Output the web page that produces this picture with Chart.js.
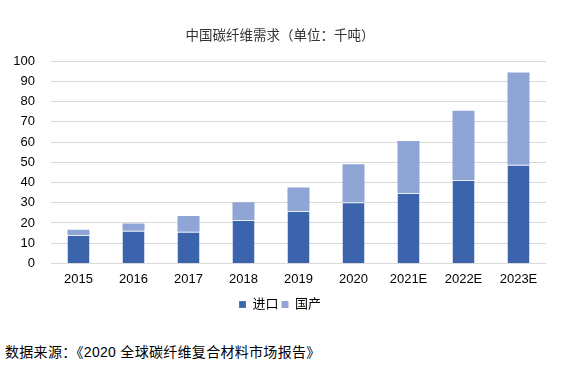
<!DOCTYPE html>
<html>
<head>
<meta charset="utf-8">
<script src="https://cdn.jsdelivr.net/npm/chart.js@4.4.0/dist/chart.umd.min.js"></script>
<style>
  html, body { margin: 0; padding: 0; background: #fff; }
  #wrap { position: relative; width: 563px; height: 368px; }
  #box { position: absolute; left: 0; top: 0; width: 563px; height: 325px; }
  #src { position: absolute; left: 5px; top: 341px; font: 14px "Liberation Sans", "Noto Sans CJK SC", sans-serif; letter-spacing: 0.3px; color: #000; white-space: nowrap; }
</style>
</head>
<body>
<div id="wrap">
  <div id="box"><canvas id="c"></canvas></div>
  <div id="src">数据来源：《2020 全球碳纤维复合材料市场报告》</div>
</div>
<script>
const categories = ['2015', '2016', '2017', '2018', '2019', '2020', '2021E', '2022E', '2023E'];
const importValues = [14, 16.1, 15.6, 21.5, 25.9, 30.3, 34.8, 41.3, 48.8];
const domesticValues = [2.6, 3.6, 7.8, 8.8, 11.6, 18.7, 25.7, 34.2, 45.6];
const seriesNames = ['进口', '国产'];
const titleText = '中国碳纤维需求（单位：千吨）';

const FONT = '"Liberation Sans", "Noto Sans CJK SC", sans-serif';

new Chart(document.getElementById('c'), {
  type: 'bar',
  data: {
    labels: categories,
    datasets: [
      { label: seriesNames[0], data: importValues, backgroundColor: '#3B64AD', borderColor: '#E8EDF7', borderWidth: {top: 1}, borderSkipped: 'bottom', barPercentage: 0.4, categoryPercentage: 1 },
      { label: seriesNames[1], data: domesticValues, backgroundColor: '#8FA5D6', borderWidth: 0, barPercentage: 0.4, categoryPercentage: 1 }
    ]
  },
  options: {
    responsive: true,
    maintainAspectRatio: false,
    animation: false,
    layout: { padding: { left: 14, right: 17, top: 28, bottom: 4 } },
    plugins: {
      title: { display: true, text: titleText, color: '#333333', font: { family: FONT, size: 13.5, weight: 'normal' }, padding: { top: 0, bottom: 17 } },
      legend: {
        position: 'bottom',
        labels: { boxWidth: 7, boxHeight: 7, color: '#000', font: { family: FONT, size: 13 }, padding: 3 }
      },
      tooltip: { enabled: false }
    },
    scales: {
      x: {
        stacked: true,
        grid: { display: false, drawTicks: false },
        border: { display: false },
        ticks: { color: '#000', font: { family: FONT, size: 13 }, padding: 8 }
      },
      y: {
        stacked: true,
        min: 0, max: 100,
        afterFit: (s) => { s.width = 37; },
        grid: { color: '#D9D9D9', lineWidth: 1, drawTicks: false },
        border: { display: false },
        ticks: { stepSize: 10, color: '#000', font: { family: FONT, size: 13 }, padding: 16 }
      }
    }
  }
});
</script>
</body>
</html>
